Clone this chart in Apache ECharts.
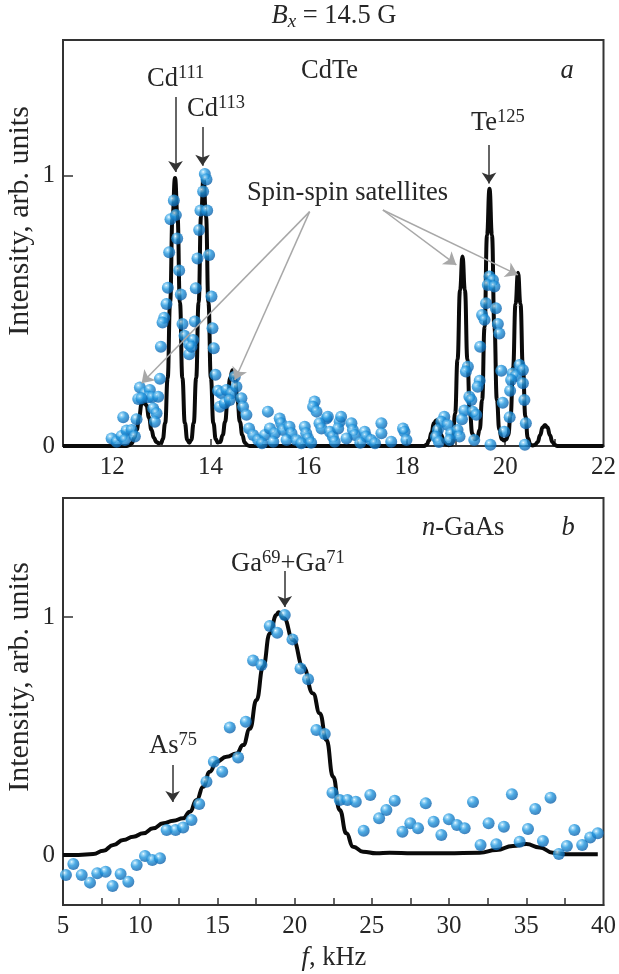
<!DOCTYPE html>
<html><head><meta charset="utf-8">
<script src="https://cdn.jsdelivr.net/npm/echarts@6/dist/echarts.min.js"></script>
<style>html,body{margin:0;padding:0;background:#fff}#c{width:619px;height:974px}</style>
</head><body><div id="c"></div>
<script>
// ---- Panel a (CdTe): fitted curve [f kHz, intensity]
const curveA = [[11.0,0],[12.0,0],[12.3,0],[12.35,0.003],[12.4,0.01],[12.45,0.03],[12.5,0.06],[12.55,0.11],[12.6,0.155],[12.65,0.165],[12.7,0.15],[12.75,0.105],[12.8,0.06],[12.85,0.03],[12.9,0.015],[12.95,0.01],[13.0,0.012],[13.03,0.025],[13.08,0.085],[13.13,0.25],[13.18,0.53],[13.23,0.85],[13.28,0.99],[13.33,0.85],[13.38,0.53],[13.43,0.25],[13.48,0.085],[13.53,0.022],[13.57,0.012],[13.61,0.022],[13.66,0.085],[13.71,0.25],[13.76,0.53],[13.81,0.85],[13.86,0.99],[13.91,0.85],[13.96,0.53],[14.01,0.25],[14.06,0.085],[14.11,0.025],[14.15,0.013],[14.2,0.015],[14.25,0.04],[14.3,0.09],[14.35,0.17],[14.4,0.25],[14.45,0.28],[14.5,0.25],[14.55,0.17],[14.6,0.09],[14.65,0.04],[14.7,0.012],[14.75,0.003],[14.8,0],[18.35,0],[18.4,0.005],[18.45,0.02],[18.5,0.05],[18.55,0.085],[18.6,0.095],[18.65,0.075],[18.7,0.04],[18.75,0.015],[18.8,0.005],[18.85,0.003],[18.9,0.005],[18.93,0.012],[18.98,0.12],[19.03,0.32],[19.08,0.575],[19.13,0.70],[19.18,0.575],[19.23,0.32],[19.28,0.125],[19.33,0.045],[19.38,0.025],[19.43,0.03],[19.48,0.06],[19.53,0.17],[19.58,0.44],[19.63,0.78],[19.68,0.95],[19.73,0.78],[19.78,0.44],[19.83,0.17],[19.88,0.06],[19.93,0.025],[19.98,0.02],[20.02,0.025],[20.06,0.04],[20.11,0.115],[20.16,0.29],[20.21,0.525],[20.26,0.64],[20.31,0.525],[20.36,0.29],[20.41,0.11],[20.46,0.03],[20.51,0.006],[20.56,0.002],[20.61,0.005],[20.66,0.015],[20.71,0.04],[20.76,0.068],[20.81,0.078],[20.86,0.068],[20.91,0.04],[20.96,0.015],[21.01,0.004],[21.06,0],[22,0]];

// ---- Panel a: measured points
const dotsA = [[13.256,0.907],[13.188,0.838],[13.297,0.853],[13.324,0.767],[13.161,0.716],[13.364,0.648],[13.134,0.585],[13.398,0.560],[13.107,0.525],[13.060,0.474],[13.026,0.456],[13.432,0.451],[13.473,0.407],[13.568,0.376],[12.992,0.367],[13.568,0.339],[12.972,0.248],
[13.683,0.460],[13.649,0.392],[13.615,0.367],
[13.886,1.005],[13.920,0.985],[13.852,0.940],[13.798,0.870],[13.934,0.870],[13.771,0.798],[13.737,0.693],[13.974,0.706],[13.703,0.583],[14.022,0.552],[14.042,0.435],[14.069,0.361],[14.103,0.263],
[12.565,0.216],[12.531,0.174],[12.667,0.195],[12.768,0.207],[12.734,0.180],[12.816,0.180],[12.938,0.182],[12.599,0.176],[12.836,0.139],[12.904,0.121],[12.870,0.090],[12.226,0.106],[12.497,0.099],[11.989,0.028],[12.091,0.016],[12.192,0.037],[12.294,0.057],[12.396,0.059],[12.463,0.035],[12.260,0.022],
[14.157,0.204],[14.225,0.195],[14.327,0.207],[14.428,0.195],[14.530,0.219],[14.496,0.256],[14.191,0.145],[14.293,0.158],[14.394,0.170],[14.631,0.176],[14.665,0.145],[14.733,0.115],[14.787,0.065],
[14.87,0.041],[14.97,0.022],[15.11,0.041],[15.17,0.127],[15.21,0.065],[15.31,0.047],[15.41,0.102],[15.44,0.084],[15.48,0.059],[15.61,0.071],[15.65,0.047],[15.55,0.022],[15.28,0.016],[15.92,0.071],[15.95,0.047],[15.99,0.028],[15.75,0.022],[16.12,0.164],[16.09,0.145],[16.16,0.127],[16.36,0.102],[16.39,0.108],[16.22,0.084],[16.26,0.065],[16.43,0.053],[16.49,0.035],[16.63,0.090],[16.66,0.108],[16.60,0.065],[16.87,0.084],[16.90,0.059],[16.94,0.041],[16.77,0.028],[17.14,0.053],[17.17,0.035],[17.27,0.022],[17.48,0.084],[17.48,0.047],[17.68,0.016],[17.92,0.065],[17.95,0.053],[17.99,0.022],[16.53,0.016],[15.85,0.010],[16.05,0.012],[17.05,0.012],[17.35,0.010],[15.05,0.010],
[19.679,0.626],[19.75,0.613],[19.645,0.595],[19.78,0.589],[19.61,0.527],[19.81,0.509],[19.53,0.484],[19.58,0.466],[19.85,0.451],[19.88,0.416],[19.49,0.367],[19.24,0.293],[19.20,0.275],[19.48,0.241],[19.44,0.219],[19.92,0.278],[19.27,0.182],[19.31,0.170],[19.17,0.131],[19.12,0.099],[19.34,0.127],[19.41,0.115],[19.95,0.160],[20.09,0.106],[19.98,0.053],[19.37,0.022],[20.29,0.299],[20.36,0.281],[20.15,0.268],[20.22,0.259],[20.12,0.244],[20.36,0.232],[20.10,0.204],[20.39,0.170],[20.42,0.084],[18.76,0.108],[18.70,0.090],[18.83,0.078],[18.63,0.059],[18.90,0.047],[19.03,0.059],[19.07,0.035],[18.87,0.022],[18.59,0.034],[18.65,0.015],[19.70,0.005],[20.40,0.005]];

// ---- Panel b (n-GaAs): fitted curve
const curveB = [[5,0],[6,0],[6.96,0.004],[7.61,0.018],[8.26,0.042],[8.9,0.063],[9.55,0.077],[10.2,0.091],[10.84,0.112],[11.49,0.133],[12.14,0.144],[12.78,0.154],[13.22,0.182],[13.65,0.231],[14.08,0.287],[14.51,0.35],[14.94,0.392],[15.59,0.413],[16.24,0.427],[16.67,0.462],[17.1,0.53],[17.53,0.651],[17.96,0.791],[18.39,0.931],[18.82,1.008],[18.95,1.02],[19.3,0.995],[19.9,0.903],[20.55,0.791],[21.19,0.679],[21.63,0.595],[22.06,0.483],[22.49,0.329],[22.92,0.189],[23.35,0.091],[23.78,0.035],[24.43,0.014],[25.29,0.007],[26.15,0.01],[27.67,0.007],[29.82,0.007],[31.98,0.010],[33.06,0.021],[34.13,0.038],[35.0,0.046],[35.86,0.032],[36.72,0.010],[37.59,0.003],[39.63,0.003]];

// ---- Panel b: measured points
const dotsB = [[5.19,-0.084],[5.67,-0.038],[6.21,-0.084],[6.75,-0.116],[7.22,-0.077],[7.76,-0.070],[8.21,-0.130],[8.73,-0.080],[9.23,-0.112],[9.77,-0.042],[10.31,-0.004],[10.78,-0.021],[11.28,-0.014],[11.71,0.105],[12.29,0.105],[12.78,0.116],[13.32,0.147],[13.82,0.214],[14.29,0.308],[14.77,0.392],[15.31,0.35],[15.80,0.536],[16.34,0.41],[16.84,0.56],[17.31,0.817],[17.85,0.798],[18.39,0.962],[18.87,0.934],[19.36,1.008],[19.86,0.906],[20.38,0.784],[20.87,0.738],[21.41,0.525],[21.95,0.508],[22.45,0.262],[22.92,0.231],[23.42,0.231],[23.96,0.224],[24.47,0.102],[24.90,0.252],[25.47,0.154],[25.94,0.189],[26.48,0.228],[26.98,0.098],[27.49,0.133],[27.99,0.112],[28.49,0.217],[29.0,0.14],[29.5,0.084],[29.99,0.15],[30.51,0.126],[31.01,0.112],[31.55,0.223],[32.04,0.042],[32.56,0.133],[33.06,0.045],[33.55,0.119],[34.07,0.255],[34.57,0.056],[35.11,0.109],[35.58,0.193],[36.08,0.059],[36.57,0.241],[37.11,0.004],[37.63,0.038],[38.12,0.105],[38.62,0.042],[39.14,0.074],[39.63,0.091]];

// ---- Ticks / labels
const xLabelsA = [12,14,16,18,20,22];
const xTicksA = [12,13,14,15,16,17,18,19,20,21];
const xLabelsB = [5,10,15,20,25,30,35,40];
const xTicksB = [7.5,10,12.5,15,17.5,20,22.5,25,27.5,30,32.5,35,37.5];
const yLabels = [0,1];

// ---- Annotation arrows (data coords): [x1,y1,x2,y2]
const arrowsA_black = [[13.29,1.289,13.29,1.012],[13.84,1.179,13.84,1.035],[19.67,1.112,19.67,0.97]];
const arrowsA_gray = [[16.02,0.866,12.60,0.232],[16.02,0.866,14.497,0.244],[17.51,0.872,19.005,0.669],[17.51,0.872,20.258,0.632]];
const arrowsB_black = [[19.36,1.193,19.36,1.042],[12.10,0.378,12.10,0.223]];

const FONT = '"Liberation Serif", "Times New Roman", serif';
const TXT = '#262626';
const AX = '#333';
const dotColor = {type:'radial', x:0.36, y:0.32, r:0.75, colorStops:[
  {offset:0,color:'#ffffff'},{offset:0.12,color:'#92d5f8'},{offset:0.42,color:'#2196de'},{offset:1,color:'#0b5aa3'}]};

function ml(arr, color, width, size){
  return {silent:true, symbol:['none','arrow'], symbolSize:size, label:{show:false},
    itemStyle:{color:color},
    lineStyle:{color:color, width:width, type:'solid'}, animation:false,
    data: arr.map(a => [{coord:[a[0],a[1]]},{coord:[a[2],a[3]]}])};
}
function xAx(g,min,max,labels,ticks){
  return {gridIndex:g, type:'value', min:min, max:max,
    axisLine:{show:true, onZero:false, lineStyle:{color:AX, width:2}},
    axisTick:{show:true, inside:true, length:7, customValues:ticks, lineStyle:{color:AX, width:1.5}},
    axisLabel:{customValues:labels, fontFamily:FONT, fontSize:25, color:TXT, margin:9},
    splitLine:{show:false}};
}
function yAx(g,min,max,ticks){
  return {gridIndex:g, type:'value', min:min, max:max,
    axisLine:{show:true, onZero:false, lineStyle:{color:AX, width:2}},
    axisTick:{show:true, inside:true, length:10, customValues:ticks, lineStyle:{color:AX, width:1.5}},
    axisLabel:{customValues:yLabels, fontFamily:FONT, fontSize:25, color:TXT, margin:8},
    splitLine:{show:false}};
}

const rich = {
  b:{fontSize:26.5, fontFamily:FONT, fill:TXT, lineHeight:30},
  i:{fontSize:26.5, fontFamily:FONT, fill:TXT, fontStyle:'italic', lineHeight:30},
  s:{fontSize:18.5, fontFamily:FONT, fill:TXT, lineHeight:18, verticalAlign:'top'},
  x:{fontSize:19, fontFamily:FONT, fill:TXT, fontStyle:'italic', lineHeight:17, verticalAlign:'bottom'},
  y:{fontSize:30, fontFamily:FONT, fill:TXT, lineHeight:32}
};
function T(x,y,text,align,rot){
  return {type:'text', x:x, y:y, rotation:rot||0, silent:true, z:100,
    style:{text:text, align:align||'left', verticalAlign:'middle', rich:rich, font:'26px '+FONT, fill:TXT}};
}

const option = {
  animation:false,
  backgroundColor:'#fff',
  grid:[
    {left:63, top:40, width:541, height:406, show:true, borderColor:AX, borderWidth:2, backgroundColor:'transparent'},
    {left:63, top:498, width:541, height:407, show:true, borderColor:AX, borderWidth:2, backgroundColor:'transparent'}
  ],
  xAxis:[xAx(0,11,22,xLabelsA,xTicksA), xAx(1,5,40,xLabelsB,xTicksB)],
  yAxis:[yAx(0,0,1.5,[1]), yAx(1,-0.21,1.5,[0,1])],
  series:[
    {type:'line', xAxisIndex:0, yAxisIndex:0, data:curveA, showSymbol:false, smooth:true, smoothMonotone:'x',
     lineStyle:{color:'#0a0a0a', width:4}, z:2,
     markLine: ml(arrowsA_black,'#333',1.5,11)},
    {type:'line', xAxisIndex:0, yAxisIndex:0, data:[], showSymbol:false, z:2,
     markLine: ml(arrowsA_gray,'#a8a8a8',1.5,12)},
    {type:'scatter', xAxisIndex:0, yAxisIndex:0, data:dotsA, symbol:'circle', symbolSize:12,
     itemStyle:{color:dotColor}, z:3},
    {type:'line', xAxisIndex:1, yAxisIndex:1, data:curveB, showSymbol:false, smooth:true, smoothMonotone:'x',
     lineStyle:{color:'#0a0a0a', width:4}, z:2,
     markLine: ml(arrowsB_black,'#333',1.5,11)},
    {type:'scatter', xAxisIndex:1, yAxisIndex:1, data:dotsB, symbol:'circle', symbolSize:12,
     itemStyle:{color:dotColor}, z:3}
  ],
  graphic:[
    T(334,16,'{i|B}{x|x}{b| = 14.5 G}','center'),
    T(147,79,'{b|Cd}{s|111}'),
    T(187,109,'{b|Cd}{s|113}'),
    T(301,71,'{b|CdTe}'),
    T(567,71,'{i|a}','center'),
    T(471,123,'{b|Te}{s|125}'),
    T(247,193,'{b|Spin-spin satellites}'),
    T(422,528,'{i|n}{b|-GaAs}'),
    T(568,528,'{i|b}','center'),
    T(231,564,'{b|Ga}{s|69}{b|+Ga}{s|71}'),
    T(149,746,'{b|As}{s|75}'),
    T(334,958,'{i|f}{b|, kHz}','center'),
    T(20,221,'{y|Intensity, arb. units}','center',Math.PI/2),
    T(20,677,'{y|Intensity, arb. units}','center',Math.PI/2)
  ]
};
const chart = echarts.init(document.getElementById('c'), null, {renderer:'canvas'});
chart.setOption(option);
</script>
</body></html>
